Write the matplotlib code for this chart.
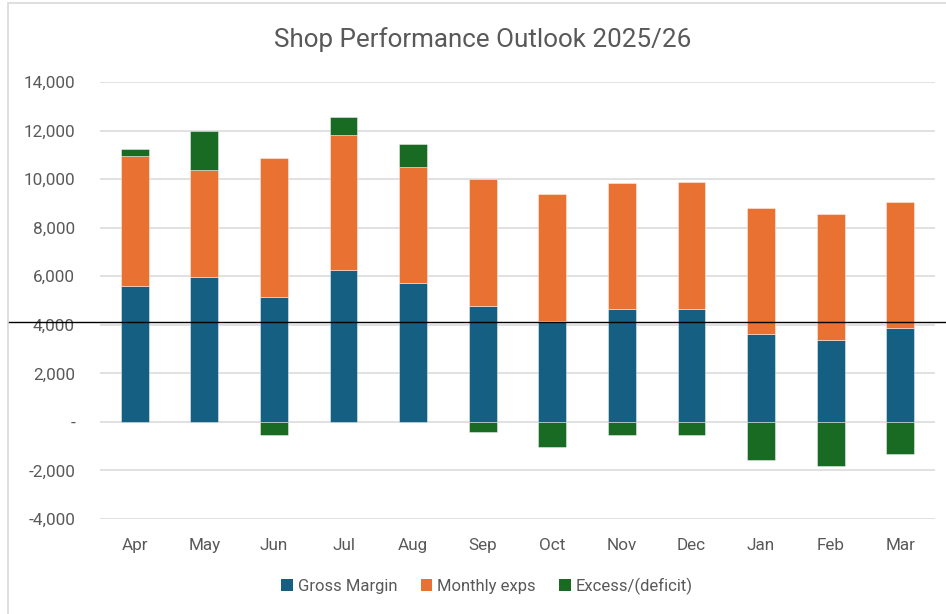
import matplotlib
matplotlib.use("Agg")
import matplotlib.pyplot as plt
import numpy as np
from matplotlib.patches import Rectangle, Patch
from matplotlib.lines import Line2D
from matplotlib.transforms import blended_transform_factory
from matplotlib.ticker import FuncFormatter, MultipleLocator

months = ["Apr", "May", "Jun", "Jul", "Aug", "Sep", "Oct", "Nov", "Dec", "Jan", "Feb", "Mar"]
gross_margin = [5600, 5980, 5130, 6260, 5710, 4780, 4160, 4660, 4660, 3630, 3370, 3880]
monthly_exps = [5350, 4400, 5740, 5560, 4780, 5210, 5210, 5160, 5210, 5190, 5210, 5190]
excess_deficit = [300, 1600, -560, 720, 950, -420, -1040, -520, -540, -1570, -1830, -1320]
reference_level = 4100

series_names = ["Gross Margin", "Monthly exps", "Excess/(deficit)"]
colors = ["#156082", "#E97132", "#196B24"]
text_color = "#595959"
grid_color = "#D9D9D9"

plt.rcParams["font.family"] = ["Roboto", "DejaVu Sans"]

W, H = 946, 614
fig = plt.figure(figsize=(W / 100, H / 100), dpi=100)
ax = fig.add_axes([100 / W, 1 - 519 / H, 835 / W, (519 - 82) / H])

x = np.arange(len(months))
gm = np.array(gross_margin)
me = np.array(monthly_exps)
ex = np.array(excess_deficit)
bw = 0.4
edge = dict(edgecolor="#FFFFFF80", linewidth=0.6)
ax.bar(x, gm, bw, color=colors[0], zorder=3, **edge)
ax.bar(x, me, bw, bottom=gm, color=colors[1], zorder=3, **edge)
ex_bottom = np.where(ex >= 0, gm + me, 0)
ax.bar(x, ex, bw, bottom=ex_bottom, color=colors[2], zorder=3, **edge)

ax.set_xlim(-0.5, len(months) - 0.5)
ax.set_ylim(-4000, 14000)
ax.yaxis.set_major_locator(MultipleLocator(2000))
ax.yaxis.set_major_formatter(FuncFormatter(lambda v, p: "-" if abs(v) < 1e-9 else f"{v:,.0f}"))
ax.set_xticks(x)
ax.set_xticklabels(months)
ax.grid(axis="y", color=grid_color, linewidth=1.1, zorder=0)
for s in ax.spines.values():
    s.set_visible(False)
ax.tick_params(axis="both", length=0, colors=text_color, labelsize=12.3)
ax.tick_params(axis="y", pad=18)
ax.tick_params(axis="x", pad=14)

fig.text(483 / W, 1 - 40 / H, "Shop Performance Outlook 2025/26", ha="center", va="center",
         fontsize=18.7, color=text_color)

handles = [Patch(facecolor=c, edgecolor="none") for c in colors]
fig.legend(handles, series_names, loc="center", bbox_to_anchor=(487 / W, 1 - 586 / H),
           ncol=3, frameon=False, fontsize=12, labelcolor=text_color,
           handlelength=0.7, handleheight=0.7, handletextpad=0.3, columnspacing=1.4)

# chart-area border (left and top visible)
fig.add_artist(Rectangle((7.5 / W, -0.2), 1.5, 1.2 - 3.5 / H, transform=fig.transFigure,
                         fill=False, edgecolor=grid_color, linewidth=1.2))

# horizontal reference line spanning the whole chart area
tr = blended_transform_factory(fig.transFigure, ax.transData)
ax.add_line(Line2D([7.5 / W, 1.0], [reference_level, reference_level], transform=tr,
                   color="black", linewidth=1.0, clip_on=False, zorder=5))

fig.savefig("out.png", dpi=100)
